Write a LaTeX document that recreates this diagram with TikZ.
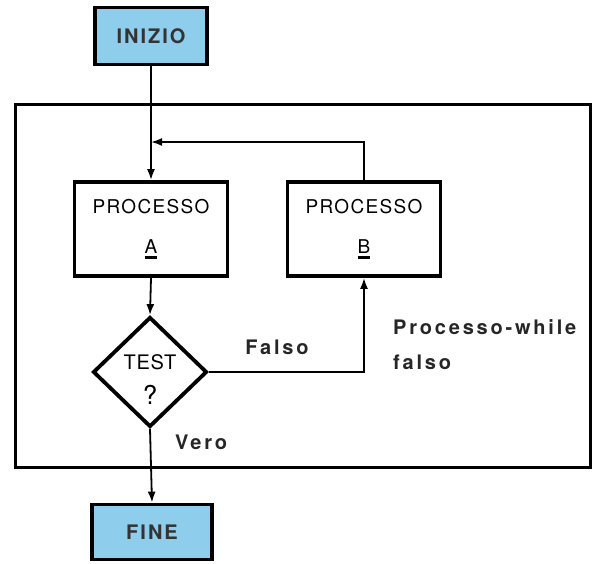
\documentclass[tikz,border=0pt]{standalone}
\usepackage{fontspec}
\setmainfont{TeX Gyre Heros}
\usepackage{xcolor}
\usetikzlibrary{arrows.meta,positioning,shapes.geometric}
\definecolor{termblue}{RGB}{142,205,235}
\newcommand{\barunder}[1]{\setbox0\hbox{#1}\rlap{\raisebox{-5pt}{\rule{\wd0}{2.4pt}}}\box0}

\begin{document}
\begin{tikzpicture}[x=1pt, y=-1pt, >=Stealth,
    % ---- styles ----
    TERM/.style={draw=black, fill=termblue, line width=3.8pt,
                 minimum width=112pt, minimum height=57pt,
                 font=\fontsize{20}{22}\selectfont\bfseries\addfontfeatures{LetterSpace=10},
                 text=black!80},
    BOX/.style={draw=black, fill=white, line width=3.8pt,
                minimum width=153pt, minimum height=94pt, align=center,
                font=\fontsize{19}{40}\selectfont\addfontfeatures{LetterSpace=7}},
    DEC/.style={diamond, draw=black, fill=white, line width=3.8pt,
                minimum width=114pt, minimum height=110pt, inner sep=0pt},
    DTXT/.style={align=center, inner sep=0pt,
                 font=\fontsize{20}{35}\selectfont\addfontfeatures{LetterSpace=4}},
    A/.style={-{Latex[length=11pt, width=8pt]}, line width=1.8pt},
    L/.style={font=\fontsize{20}{35}\selectfont\bfseries\addfontfeatures{LetterSpace=14},
              text=black!85, inner sep=0pt},
]
\useasboundingbox[fill=white] (0,0) rectangle (602,564);

% ===== outer frame =====
\draw[line width=3pt] (15,105) rectangle (590,467);

% ===== nodes =====
\node[TERM] (inizio) at (151,36)  {INIZIO};
\node[BOX]  (procA)  at (151,229) {PROCESSO\\\barunder{A}};
\node[BOX]  (procB)  at (364,229) {PROCESSO\\\barunder{B}};
\node[DEC]  (test)   at (150,372) {};
\node[DTXT] (testtxt) at (150,380) {TEST\\{\fontsize{26}{35}\selectfont ?}};
\node[TERM, minimum width=120pt, minimum height=55pt] (fine) at (152,532) {FINE};
\coordinate (join) at (151,142);

% ===== labels =====
\node[L] (falso) at (277,347) {Falso};
\node[L, anchor=west, align=left] (pwhile) at (393,345) {Processo-while\\falso};
\node[L, anchor=west] (vero) at (175,442) {Vero};

% ===== connectors =====
\draw[line width=1.8pt] (inizio.south) -- (join);
\draw[A] (join) -- (procA.north);
\draw[A] (procB.north) |- (join);
\draw[A] (procA.south) -- (test.north);
\draw[A] (test.east) -| (procB.south);
\draw[A] (test.south) -- (fine.north);

\end{tikzpicture}
\end{document}
